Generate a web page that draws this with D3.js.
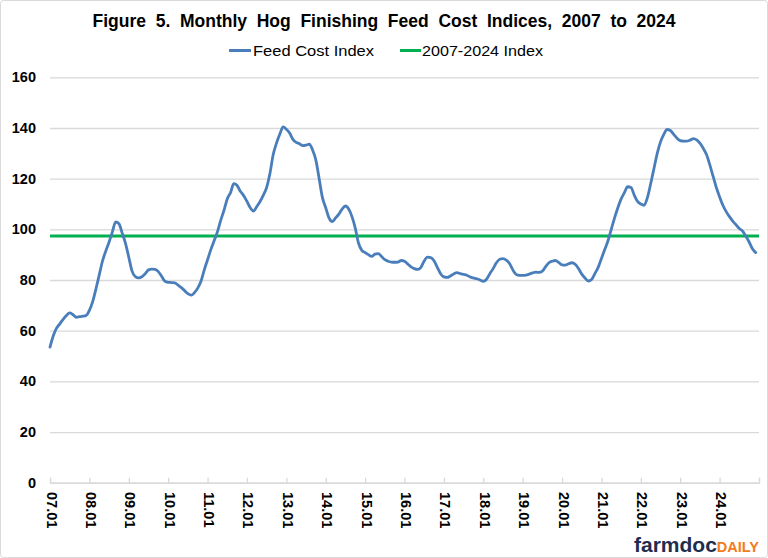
<!DOCTYPE html>
<html>
<head>
<meta charset="utf-8">
<script src="https://cdn.jsdelivr.net/npm/d3@7"></script>
<style>
  html, body { margin: 0; padding: 0; background: #ffffff; }
  svg { display: block; }
  text { font-family: "Liberation Sans", Arial, sans-serif; }
</style>
</head>
<body>
<svg id="chart" width="768" height="558"></svg>
<script>
// ---------------- DATA ----------------
const startYear = 2007;
const endYear = 2024;
// monthly categories "07.01" ... "24.12"
const categories = [];
for (let y = startYear; y <= endYear; y++) {
  for (let m = 1; m <= 12; m++) {
    categories.push(String(y % 100).padStart(2, "0") + "." + String(m).padStart(2, "0"));
  }
}
// Feed Cost Index, monthly
const feedCostIndex = [
  // 2007
  53.5, 58, 61, 62.7, 64.5, 66, 67, 66.3, 65.3, 65.5, 65.7, 66,
  // 2008
  68, 71.5, 76.5, 82, 87.5, 91.5, 95, 99, 102.9, 102.2, 98.5, 94.5,
  // 2009
  89, 83.5, 81.3, 80.8, 81.3, 82.5, 84, 84.3, 84.2, 83.3, 81.5, 79.5,
  // 2010
  79.1, 79, 78.9, 78, 77, 75.8, 74.6, 74, 75, 76.8, 79.5, 84,
  // 2011
  88, 92, 95.5, 99, 103.5, 107.5, 112, 114.5, 118, 117.3, 115, 113.3,
  // 2012
  111, 108.5, 107.2, 109, 111, 113.5, 116.5, 122, 129.5, 134, 137.5, 140.4,
  // 2013
  139.5, 138, 135.5, 134.3, 133.8, 133, 133.2, 133.6, 131.3, 127.3, 120, 112.5,
  // 2014
  108.5, 104.5, 103, 104.5, 106, 108, 109.2, 108, 105, 100.5, 94.5, 91.7,
  // 2015
  90.8, 90, 89.3, 90.2, 90.4, 89.3, 88, 87.4, 87.1, 87, 87.1, 87.7,
  // 2016
  87.4, 86.3, 85.2, 84.5, 84.2, 85, 87.5, 89, 88.8, 87.6, 85, 82.5,
  // 2017
  81.2, 81, 81.6, 82.4, 82.9, 82.5, 82.2, 81.9, 81.2, 80.8, 80.5, 80,
  // 2018
  79.5, 80.3, 82.5, 84.5, 86.8, 88.2, 88.4, 87.8, 86.5, 84, 82.2, 81.8,
  // 2019
  81.8, 81.9, 82.3, 82.8, 83.1, 83, 83.5, 85.3, 86.8, 87.4, 87.7, 86.9,
  // 2020
  86, 85.9, 86.4, 86.8, 86.2, 84.5, 82.3, 80.8, 79.6, 80.2, 82.5, 85,
  // 2021
  88.5, 92, 95.5, 100, 104.5, 108.5, 112, 114.5, 116.8, 116.5, 113.5, 111,
  // 2022
  110, 109.5, 112.5, 118, 124, 130, 134.5, 137.5, 139.4, 139, 137.5, 136,
  // 2023
  135, 134.8, 134.8, 135.2, 135.8, 135.3, 134, 132, 129.5, 125.5, 121, 116.5,
  // 2024
  112.8, 109.5, 107, 105, 103.2, 101.8, 100.3, 99.3, 97.3, 95, 92.3, 90.8
];
// 2007-2024 average index
const averageIndex = 97.4;
const yTicks = [0, 20, 40, 60, 80, 100, 120, 140, 160];
const xTickLabels = ["07.01","08.01","09.01","10.01","11.01","12.01","13.01","14.01","15.01",
                     "16.01","17.01","18.01","19.01","20.01","21.01","22.01","23.01","24.01"];
const seriesNames = ["Feed Cost Index", "2007-2024 Index"];
const titleText = "Figure  5.  Monthly  Hog  Finishing  Feed  Cost  Indices,  2007  to  2024";

// ---------------- CHART ----------------
const svg = d3.select("#chart");
const W = 768, H = 558;
const plot = { left: 50, right: 759, top: 77.3, bottom: 482.7 };
const blue = "#4a7ebb", green = "#00b050", grid = "#d9d9d9";

svg.append("rect").attr("x", 0.5).attr("y", 0.5).attr("width", W - 1).attr("height", H - 1)
  .attr("rx", 3).attr("fill", "#fff").attr("stroke", "#d9d9d9");

const x = d3.scaleLinear().domain([0, categories.length]).range([plot.left, plot.right]);
const y = d3.scaleLinear().domain([0, 160]).range([plot.bottom, plot.top]);

// gridlines
const yAxis = d3.axisLeft(y).tickValues(yTicks).tickSize(-(plot.right - plot.left)).tickPadding(14);
const gy = svg.append("g").attr("transform", `translate(${plot.left},0)`).call(yAxis);
gy.select(".domain").remove();
gy.selectAll(".tick line").attr("stroke", grid).attr("stroke-width", 1.3);
gy.selectAll(".tick text").attr("font-size", 14.5).attr("font-weight", "bold")
  .attr("fill", "#000").attr("font-family", "'Liberation Sans', Arial, sans-serif");

// x axis
const tickIdx = xTickLabels.map((d, i) => i * 12).concat([categories.length]);
const xAxis = d3.axisBottom(x).tickValues(tickIdx).tickSize(-5).tickFormat(() => "");
const gx = svg.append("g").attr("transform", `translate(0,${plot.bottom})`).call(xAxis);
gx.select(".domain").attr("stroke", grid).attr("stroke-width", 1.3);
gx.selectAll(".tick line").attr("stroke", grid).attr("stroke-width", 1.3);

svg.append("g").selectAll("text").data(xTickLabels).join("text")
  .attr("transform", (d, i) => `translate(${x(i * 12) + 1.5},492) rotate(90)`)
  .attr("dominant-baseline", "central")
  .attr("text-anchor", "start")
  .attr("font-size", 14.5).attr("font-weight", "bold").attr("fill", "#000")
  .text(d => d);

// average line
svg.append("line")
  .attr("x1", x(0)).attr("x2", plot.right)
  .attr("y1", y(averageIndex)).attr("y2", y(averageIndex))
  .attr("stroke", green).attr("stroke-width", 3);

// feed cost index line
const line = d3.line().x((d, i) => x(i)).y(d => y(d)).curve(d3.curveMonotoneX);
svg.append("path").datum(feedCostIndex)
  .attr("d", line).attr("fill", "none").attr("stroke", blue)
  .attr("stroke-width", 2.8).attr("stroke-linejoin", "round").attr("stroke-linecap", "round");

// title
svg.append("text").attr("x", 384).attr("y", 27).attr("text-anchor", "middle")
  .attr("font-size", 17.5).attr("font-weight", "bold").attr("fill", "#000")
  .attr("textLength", 583).attr("lengthAdjust", "spacing")
  .style("white-space", "pre")
  .text(titleText);

// legend
const legend = [
  { name: seriesNames[0], color: blue, x1: 229, x2: 251, tx: 253 },
  { name: seriesNames[1], color: green, x1: 400, x2: 421, tx: 422 }
];
const lg = svg.append("g");
lg.selectAll("line").data(legend).join("line")
  .attr("x1", d => d.x1).attr("x2", d => d.x2).attr("y1", 50.5).attr("y2", 50.5)
  .attr("stroke", d => d.color).attr("stroke-width", 3);
lg.selectAll("text").data(legend).join("text")
  .attr("x", d => d.tx).attr("y", 56)
  .attr("font-size", 15.5).attr("fill", "#000")
  .attr("textLength", 121).attr("lengthAdjust", "spacingAndGlyphs")
  .text(d => d.name);

// logo
const logo = svg.append("text").attr("x", 634).attr("y", 552)
  .attr("font-weight", "bold");
logo.append("tspan").attr("font-size", 21).attr("fill", "#1f2d4e").text("farmdoc");
logo.append("tspan").attr("font-size", 14.5).attr("fill", "#f47b20").text("DAILY");
</script>
</body>
</html>
